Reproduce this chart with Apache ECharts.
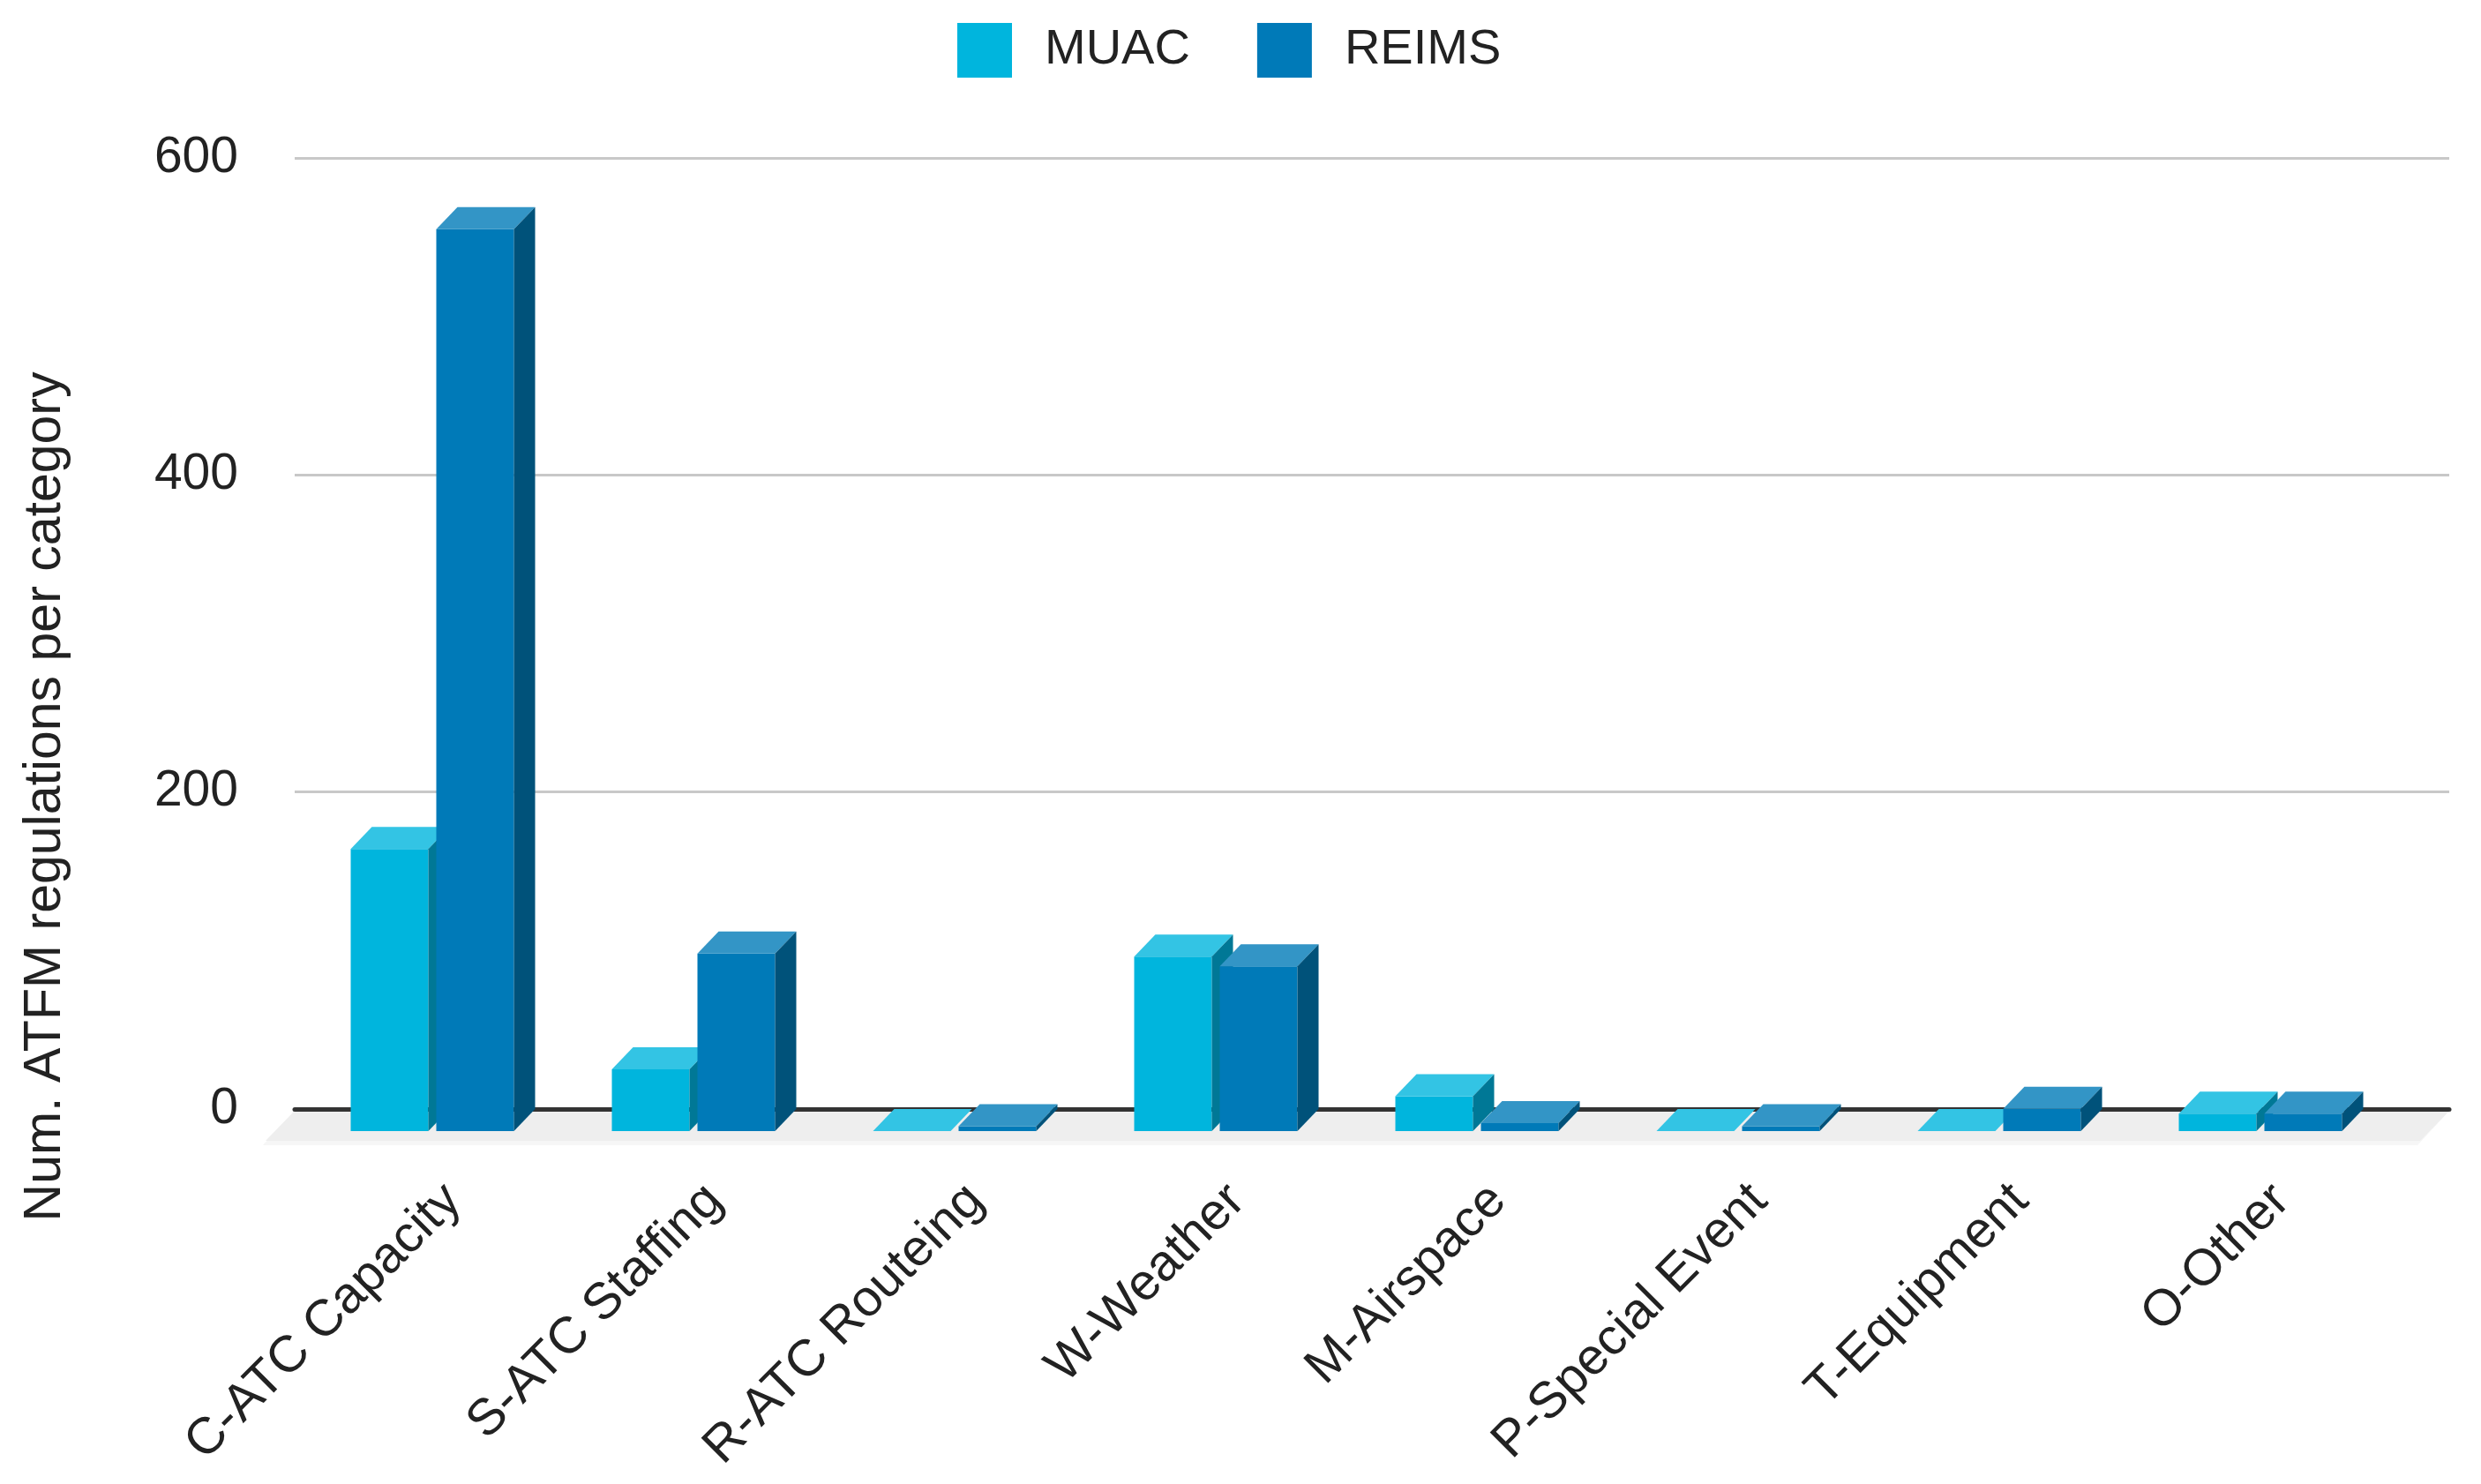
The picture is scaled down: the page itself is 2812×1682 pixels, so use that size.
<!DOCTYPE html>
<html>
<head>
<meta charset="utf-8">
<script src="https://cdn.jsdelivr.net/npm/echarts@6/dist/echarts.min.js"></script>
<style>
    html, body { margin: 0; padding: 0; background: #fff; }
    #container { width: 2812px; height: 1682px; }
</style>
</head>
<body>
<div id="container"></div>
<script>
// categories and values
var categories = ['C-ATC Capacity', 'S-ATC Staffing', 'R-ATC Routeing', 'W-Weather',
    'M-Airspace', 'P-Special Event', 'T-Equipment', 'O-Other'];
var muacValues = [178, 39, 0, 110, 22, 0, 0, 11];
var reimsValues = [569, 112, 3, 104, 5, 3, 14, 11];
var yMin = 0, yMax = 600, yStep = 200;

var fontFam = '"Liberation Sans", Arial, sans-serif';
// front / top / side colours of the 3d bars
var muacCols = ['#00b5dd', '#33c4e4', '#007896'];
var reimsCols = ['#007ab8', '#3395c6', '#00527a'];

var depthX = 24, depthY = 25;   // 3d offset of the front face
var barW = 88, barGap = 9;

function toData(arr) {
    var out = [];
    for (var i = 0; i < arr.length; i++) {
        out.push([i, arr[i]]);
    }
    return out;
}

// draws one 3d bar: front rect, lighter top, darker side
function make3dBar(pos, cols) {
    return function (params, api) {
        var idx = api.value(0);
        var top = api.coord([idx, api.value(1)]);
        var base = api.coord([idx, 0]);
        var xc = top[0] - depthX;
        var fl = pos === 0 ? xc - barW - barGap / 2 : xc + barGap / 2;
        var yt = top[1], yb = base[1];
        return {
            type: 'group',
            children: [
                {
                    type: 'rect',
                    shape: { x: fl, y: yt + depthY, width: barW, height: yb - yt },
                    style: { fill: cols[0] }
                },
                {
                    type: 'polygon',
                    shape: { points: [[fl, yt + depthY], [fl + barW, yt + depthY], [fl + barW + depthX, yt], [fl + depthX, yt]] },
                    style: { fill: cols[1] }
                },
                {
                    type: 'polygon',
                    shape: { points: [[fl + barW, yt + depthY], [fl + barW + depthX, yt], [fl + barW + depthX, yb], [fl + barW, yb + depthY]] },
                    style: { fill: cols[2] }
                }
            ]
        };
    };
}

// grey floor under the bars
function drawFloor(params, api) {
    var cs = params.coordSys;
    var y0 = cs.y + cs.height + 2;
    return {
        type: 'group',
        children: [
            {
                type: 'polygon',
                shape: { points: [[cs.x, y0], [cs.x + cs.width, y0], [cs.x + cs.width - 36, y0 + 39], [cs.x - 36, y0 + 39]] },
                style: { fill: '#f6f6f6' }
            },
            {
                type: 'polygon',
                shape: { points: [[cs.x, y0], [cs.x + cs.width, y0], [cs.x + cs.width - 33, y0 + 34], [cs.x - 33, y0 + 34]] },
                style: { fill: '#eeeeee' }
            }
        ]
    };
}

var dom = document.getElementById('container');
var myChart = echarts.init(dom);
var option = {
    animation: false,
    backgroundColor: '#ffffff',
    textStyle: { fontFamily: fontFam },
    legend: {
        data: ['MUAC', 'REIMS'],
        left: 1080,
        top: 21,
        icon: 'rect',
        itemWidth: 62,
        itemHeight: 62,
        itemGap: 76,
        textStyle: { fontSize: 56, color: '#222', fontFamily: fontFam, padding: [0, 0, 0, 32] }
    },
    graphic: [
        {
            type: 'text',
            x: 52,
            y: 903,
            rotation: Math.PI / 2,
            style: {
                text: 'Num. ATFM regulations per category',
                fill: '#222',
                font: '59px ' + fontFam,
                textAlign: 'center',
                textVerticalAlign: 'middle'
            }
        }
    ],
    grid: [
        { left: 366, right: 78, top: 179, bottom: 425 },
        { left: 334, right: 36, top: 179, bottom: 425 }
    ],
    xAxis: [
        {
            type: 'category',
            gridIndex: 0,
            data: categories,
            axisLine: { show: false },
            axisTick: { show: false },
            axisLabel: { interval: 0, rotate: 45, margin: 95, fontSize: 58, color: '#222', fontFamily: fontFam }
        },
        {
            type: 'value',
            gridIndex: 1,
            min: 0,
            max: 1,
            z: 1,
            axisLine: { show: true, lineStyle: { color: '#333', width: 5 } },
            axisTick: { show: false },
            axisLabel: { show: false },
            splitLine: { show: false }
        }
    ],
    yAxis: [
        { type: 'value', gridIndex: 0, min: yMin, max: yMax, interval: yStep, show: false },
        {
            type: 'value',
            gridIndex: 1,
            min: yMin,
            max: yMax,
            interval: yStep,
            axisLine: { show: false },
            axisTick: { show: false },
            axisLabel: { margin: 64, fontSize: 57, color: '#222', fontFamily: fontFam },
            splitLine: { lineStyle: { color: '#c8c8c8', width: 3 } }
        }
    ],
    series: [
        {
            name: 'floor',
            type: 'custom',
            xAxisIndex: 1,
            yAxisIndex: 1,
            z: 1,
            silent: true,
            renderItem: drawFloor,
            data: [[0, 0]]
        },
        {
            name: 'MUAC',
            type: 'custom',
            xAxisIndex: 0,
            yAxisIndex: 0,
            itemStyle: { color: muacCols[0] },
            renderItem: make3dBar(0, muacCols),
            encode: { x: 0, y: 1 },
            data: toData(muacValues)
        },
        {
            name: 'REIMS',
            type: 'custom',
            xAxisIndex: 0,
            yAxisIndex: 0,
            itemStyle: { color: reimsCols[0] },
            renderItem: make3dBar(1, reimsCols),
            encode: { x: 0, y: 1 },
            data: toData(reimsValues)
        }
    ]
};
myChart.setOption(option, true);
</script>
</body>
</html>
